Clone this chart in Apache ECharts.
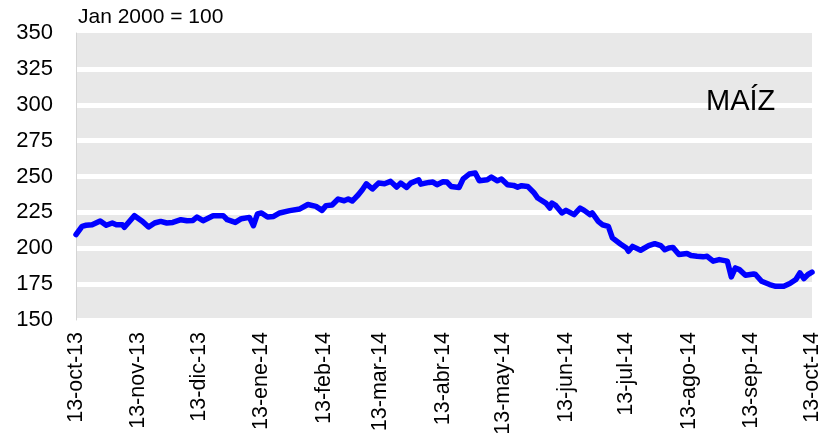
<!DOCTYPE html>
<html>
<head>
<meta charset="utf-8">
<script src="https://cdn.jsdelivr.net/npm/echarts@6/dist/echarts.min.js"></script>
<style>
html,body{margin:0;padding:0;background:#fff;}
#chart{width:823px;height:433px;}
</style>
</head>
<body>
<div id="chart"></div>
<script>
// ---- data ----
const dates = [
'2013-10-13','2013-10-16','2013-10-18','2013-10-21','2013-10-25','2013-10-28','2013-10-31','2013-11-02','2013-11-05','2013-11-06',
'2013-11-11','2013-11-15','2013-11-18','2013-11-21','2013-11-24','2013-11-27','2013-11-30','2013-12-04','2013-12-07','2013-12-10',
'2013-12-12','2013-12-15','2013-12-20','2013-12-25','2013-12-27','2013-12-31','2014-01-03','2014-01-07','2014-01-09','2014-01-11',
'2014-01-13','2014-01-16','2014-01-19','2014-01-22','2014-01-27','2014-02-01','2014-02-05','2014-02-09','2014-02-12','2014-02-14',
'2014-02-17','2014-02-20','2014-02-23','2014-02-25','2014-02-27','2014-03-02','2014-03-04','2014-03-06','2014-03-09','2014-03-12',
'2014-03-15','2014-03-18','2014-03-21','2014-03-23','2014-03-26','2014-03-28','2014-04-01','2014-04-02','2014-04-06','2014-04-08',
'2014-04-10','2014-04-13','2014-04-15','2014-04-17','2014-04-21','2014-04-23','2014-04-26','2014-04-29','2014-05-01','2014-05-05',
'2014-05-07','2014-05-10','2014-05-12','2014-05-15','2014-05-18','2014-05-20','2014-05-22','2014-05-25','2014-05-28','2014-05-30',
'2014-06-03','2014-06-05','2014-06-06','2014-06-08','2014-06-11','2014-06-13','2014-06-17','2014-06-20','2014-06-22','2014-06-25',
'2014-06-26','2014-06-29','2014-07-01','2014-07-04','2014-07-06','2014-07-10','2014-07-13','2014-07-14','2014-07-16','2014-07-20',
'2014-07-24','2014-07-27','2014-07-30','2014-08-01','2014-08-03','2014-08-05','2014-08-08','2014-08-12','2014-08-14','2014-08-17',
'2014-08-20','2014-08-22','2014-08-25','2014-08-28','2014-09-01','2014-09-03','2014-09-05','2014-09-07','2014-09-10','2014-09-14',
'2014-09-15','2014-09-18','2014-09-22','2014-09-25','2014-09-29','2014-10-02','2014-10-05','2014-10-07','2014-10-09','2014-10-11',
'2014-10-13'
];
const values = [
209.5,215.3,216.0,216.4,219.0,216.0,217.6,216.4,216.4,214.6,
222.7,218.7,214.8,217.6,218.7,217.6,218.0,219.9,219.2,219.4,
221.8,219.2,222.7,222.7,219.9,218.0,220.6,221.5,215.7,223.9,
224.6,221.8,222.2,224.6,226.2,227.4,230.5,229.2,226.4,229.7,
230.1,234.3,233.1,234.3,232.9,237.3,240.8,244.9,241.3,245.4,
244.9,246.6,242.6,245.4,242.4,245.4,247.7,244.7,245.9,246.1,
244.3,246.3,246.1,243.1,242.4,248.4,251.7,252.4,247.0,247.7,
249.6,247.0,248.2,244.3,243.8,242.6,243.6,243.1,238.9,235.0,
231.5,228.0,231.5,229.7,224.6,226.4,223.4,228.0,226.4,223.4,
224.6,218.7,216.4,215.3,207.2,203.0,200.2,197.9,201.3,198.6,
201.8,203.2,201.8,199.0,200.2,200.6,195.6,196.3,194.9,194.4,
194.0,194.4,191.0,192.1,191.0,180.0,186.3,185.1,181.2,182.1,
181.7,177.0,174.7,173.5,173.5,175.4,178.2,182.8,178.9,181.7,
183.3
];
const tickDates = ['2013-10-13','2013-11-13','2013-12-13','2014-01-13','2014-02-13','2014-03-13','2014-04-13',
  '2014-05-13','2014-06-13','2014-07-13','2014-08-13','2014-09-13','2014-10-13'];
const tickLabels = ['13-oct-13','13-nov-13','13-dic-13','13-ene-14','13-feb-14','13-mar-14','13-abr-14',
  '13-may-14','13-jun-14','13-jul-14','13-ago-14','13-sep-14','13-oct-14'];
const yMin = 150, yMax = 350, yStep = 25;
const unitLabel = 'Jan 2000 = 100';
const seriesName = 'MAÍZ';

// ---- build daily category axis from first to last tick date ----
function iso(t){ return new Date(t).toISOString().slice(0,10); }
const days = [];
{
  const start = Date.parse(tickDates[0] + 'T00:00:00Z');
  const end = Date.parse(tickDates[tickDates.length-1] + 'T00:00:00Z');
  for (let t = start; t <= end; t += 86400000) days.push(iso(t));
}
const lookup = {};
dates.forEach((d,i)=>{ lookup[d] = values[i]; });
const seriesData = days.map(d => (d in lookup) ? lookup[d] : null);

const FONT = '"Liberation Sans", Arial, sans-serif';
const chart = echarts.init(document.getElementById('chart'), null, {renderer:'canvas'});
chart.setOption({
  animation: false,
  title: {
    text: unitLabel, left: 73, top: 2,
    textStyle: {fontFamily: FONT, fontSize: 21, fontWeight: 'normal', color: '#000'}
  },
  graphic: [{
    type: 'text', left: 706, top: 87, z: 100,
    style: {text: seriesName, font: '29px ' + FONT, fill: '#000'}
  }],
  grid: {
    left: 76, right: 11, top: 33, bottom: 113,
    outerBoundsMode: 'none', containLabel: false,
    show: true, backgroundColor: '#e8e8e8', borderWidth: 0
  },
  xAxis: {
    type: 'category', data: days, boundaryGap: false,
    axisLine: {show: false}, axisTick: {show: false},
    splitLine: {show: false},
    axisLabel: {
      rotate: 90, margin: 12, fontFamily: FONT, fontSize: 21.5, color: '#000',
      interval: (i, v) => tickDates.indexOf(v) >= 0,
      formatter: v => tickLabels[tickDates.indexOf(v)]
    }
  },
  yAxis: {
    type: 'value', min: yMin, max: yMax, interval: yStep,
    axisLine: {show: true, lineStyle: {color: '#d4d4d4', width: 1}},
    axisTick: {show: false},
    axisLabel: {margin: 23, fontFamily: FONT, fontSize: 22, color: '#000'},
    splitLine: {show: true, showMaxLine: false, lineStyle: {color: '#ffffff', width: 5}}
  },
  series: [{
    type: 'line', name: seriesName, data: seriesData, connectNulls: true,
    showSymbol: false, symbol: 'none', z: 5,
    lineStyle: {color: '#0000ff', width: 5.5, join: 'round', cap: 'round'}
  }]
});
</script>
</body>
</html>
